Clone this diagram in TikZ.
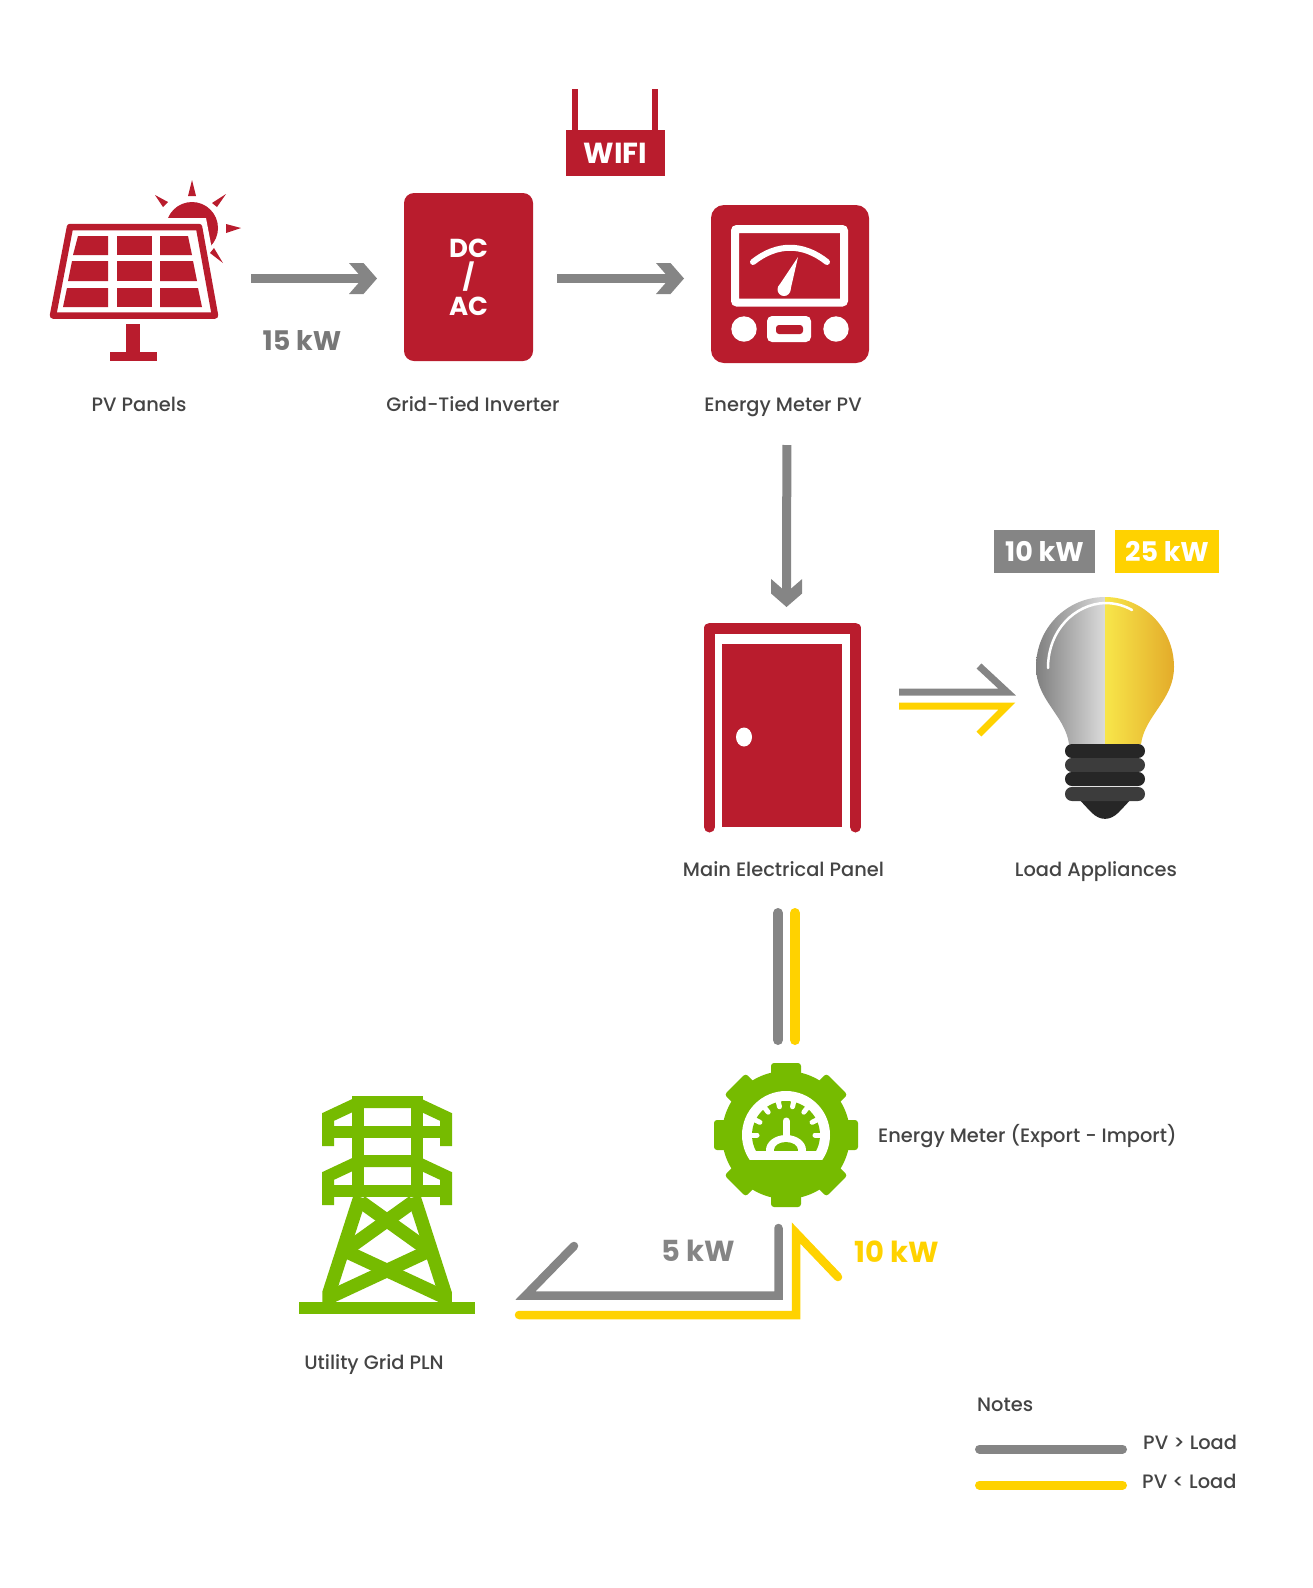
\documentclass[tikz,border=0pt]{standalone}
\usepackage{fontspec}
\setmainfont{Poppins}
\newfontfamily\captionfont{Poppins Medium}
\usetikzlibrary{arrows.meta,positioning}
\definecolor{panelred}{HTML}{B91C2D}
\definecolor{linegray}{HTML}{858585}
\definecolor{lineyellow}{HTML}{FFD200}
\definecolor{towergreen}{HTML}{76BB00}
\definecolor{textgray}{HTML}{444444}
\definecolor{bulbblack}{HTML}{262626}
\definecolor{bulbleft}{HTML}{F8E64A}
\definecolor{bulbright}{HTML}{E3AB2A}
\pgfdeclarearrow{
  name=Chevron,
  setup code={\pgfarrowssettipend{0pt}\pgfarrowssetbackend{-28pt}\pgfarrowssetlineend{-10pt}\pgfarrowssetvisualbackend{-10pt}},
  drawing code={
    \pgfpathmoveto{\pgfqpoint{0pt}{0pt}}
    \pgfpathlineto{\pgfqpoint{-13.5pt}{15.5pt}}
    \pgfpathlineto{\pgfqpoint{-28pt}{15.5pt}}
    \pgfpathlineto{\pgfqpoint{-14.5pt}{0pt}}
    \pgfpathlineto{\pgfqpoint{-28pt}{-15.5pt}}
    \pgfpathlineto{\pgfqpoint{-13.5pt}{-15.5pt}}
    \pgfpathclose
    \pgfusepathqfill}
}
\begin{document}
\begin{tikzpicture}[x=1pt,y=-1pt,
    iconbox/.style={minimum width=#1,outer sep=0pt,inner sep=0pt},
    caption/.style={font=\fontsize{19.4}{22}\captionfont,text=textgray,inner sep=0pt},
    power/.style={font=\fontsize{27}{30}\selectfont\bfseries,inner sep=0pt},
    tagbox/.style={power,text=white,minimum width=#1,minimum height=43pt,outer sep=0pt},
    flow/.style={line width=9pt,draw=linegray,-{Chevron}},
    grayline/.style={line width=8.5pt,draw=linegray},
    yellowline/.style={line width=8.5pt,draw=lineyellow},
    tower/.style={line width=13.5pt,draw=towergreen}]
    \useasboundingbox (0,0) rectangle (1313,1588);

    % main blocks
    \node[iconbox=192pt,minimum height=181pt] (panels) at (145,270.5) {};
    \node[fill=panelred,rounded corners=10pt,minimum width=129pt,minimum height=168pt,outer sep=0pt,
          text=white,align=center,font=\fontsize{26}{29}\selectfont\bfseries,inner sep=0pt] (inverter) at (468.5,277) {DC\\/\\AC};
    \node[fill=panelred,text=white,minimum width=99pt,minimum height=46pt,outer sep=0pt,inner sep=0pt,
          font=\fontsize{29}{32}\selectfont\bfseries] (wifi) at (615.5,153) {WIFI};
    \node[fill=panelred,rounded corners=13pt,minimum width=158pt,minimum height=158pt,outer sep=0pt] (meter) at (790,284) {};
    \node[iconbox=157pt,minimum height=210pt] (door) at (782.5,727) {};
    \node[iconbox=138pt,minimum height=230pt] (bulb) at (1105,712) {};
    \node[iconbox=144pt,minimum height=144pt] (gear) at (786,1135) {};
    \node[iconbox=176pt,minimum height=218pt] (pylon) at (387,1205) {};

    % captions
    \node[caption] (panelscap) [below of=panels,node distance=133.5pt,xshift=-6pt] {PV Panels};
    \node[caption] (invertercap) [below of=inverter,node distance=127pt,xshift=4.5pt] {Grid-Tied Inverter};
    \node[caption] (metercap) [below of=meter,node distance=123pt,xshift=-7pt] {Energy Meter PV};
    \node[caption] (doorcap) [below of=door,node distance=142.5pt,xshift=1pt] {Main Electrical Panel};
    \node[caption] (bulbcap) [below of=bulb,node distance=159.5pt,xshift=-9pt] {Load Appliances};
    \node[caption,anchor=west] (gearcap) at (878,1136) {Energy Meter (Export - Import)};
    \node[caption] (pyloncap) [below of=pylon,node distance=159.5pt,xshift=-13pt] {Utility Grid PLN};

    % power values
    \node[power,text=linegray!90!black] (pvpower) at (302,340.5) {15 kW};
    \node[tagbox=101pt,fill=linegray] (graytag) at (1044.5,551.5) {10 kW};
    \node[tagbox=104pt,fill=lineyellow] (yellowtag) at (1167,551.5) {25 kW};
    \node[power,font=\fontsize{29}{32}\selectfont\bfseries,text=linegray] (exportpower) at (698,1250.5) {5 kW};
    \node[power,font=\fontsize{29}{32}\selectfont\bfseries,text=lineyellow] (importpower) at (897,1251.5) {10 kW};

    % notes
    \node[caption,anchor=west] (notes) at (977,1405) {Notes};
    \node[caption,anchor=west] (pvmore) at (1143,1442) {PV > Load};
    \node[caption,anchor=west] (pvless) at (1142,1481) {PV < Load};
    \coordinate (keygraya) at (979.5,1449);
    \coordinate (keygrayb) at (1122.5,1449);
    \coordinate (keyyellowa) at (979.5,1485);
    \coordinate (keyyellowb) at (1122.5,1485);
    \draw[grayline,line width=9pt,line cap=round] (keygraya) -- (keygrayb);
    \draw[yellowline,line width=9pt,line cap=round] (keyyellowa) -- (keyyellowb);

    % solar panel
    \fill[panelred] (192,228) circle (26);
    \fill[white] (120,218) rectangle (205,262);
    \fill[white] (190,218) -- (206,218) -- (225.5,320) -- (190,320) -- cycle;
    \fill[panelred] (188,196) -- (196,196) -- (192,180) -- cycle;
    \fill[panelred] (212,203) -- (217,207) -- (226,194) -- cycle;
    \fill[panelred] (163,207) -- (168,202) -- (155,195) -- cycle;
    \fill[panelred] (226,224) -- (226,233) -- (241,228) -- cycle;
    \fill[panelred] (210,253) -- (214,248) -- (223,263) -- cycle;
    \draw[panelred,line width=6.5pt,line join=round,fill=white] (70,227) -- (199,227) -- (215,315.5) -- (53,315.5) -- cycle;
    \foreach \xa/\xb/\xc/\xd/\ya/\yb in {78/108/108/73/236/255,117/152/152/117/236/255,160/188/192/160/236/255,
        72/108/108/68/261/281,117/152/152/117/261/281,160/193/197/160/261/281,
        67/108/108/63/288/307,117/152/152/117/288/307,160/198/202/160/288/307}
      \fill[panelred] (\xa,\ya) -- (\xb,\ya) -- (\xc,\yb) -- (\xd,\yb) -- cycle;
    \fill[panelred] (126,324) rectangle (140,352);
    \fill[panelred] (110,352) rectangle (157,361);

    % router antennas
    \fill[panelred] (572,89) rectangle (578,132);
    \fill[panelred] (652,89) rectangle (658,132);

    % meter face
    \draw[white,line width=8pt,rounded corners=2pt] (735,229) rectangle (844,302.5);
    \draw[white,line width=6pt,line cap=round] (753,262) .. controls (777,243) and (803,243) .. (827,262);
    \fill[white] (798,257) -- (790,292) -- (778,287) -- cycle;
    \fill[white] (784,289.5) circle (6.5);
    \fill[white] (744,329) circle (12.7);
    \fill[white] (836,329) circle (12.7);
    \fill[white,rounded corners=5pt] (767,316) rectangle (811,342);
    \fill[panelred,rounded corners=3pt] (776,325) rectangle (803,334);

    % door
    \draw[panelred,line width=11pt,line join=round,line cap=round] (709.5,827) -- (709.5,628) -- (855.5,628) -- (855.5,827);
    \fill[panelred] (722,644) rectangle (842,827);
    \fill[white] (744,737) ellipse (8 and 9.5);

    % bulb
    \shade[left color=black!50,right color=black!14] (1105,597) .. controls (1067,597) and (1036,628) .. (1036,667)
      .. controls (1036,700) and (1065,715) .. (1069,744) -- (1105,744) -- cycle;
    \shade[left color=bulbleft,right color=bulbright] (1105,597) .. controls (1143,597) and (1174,628) .. (1174,667)
      .. controls (1174,700) and (1145,715) .. (1141,744) -- (1105,744) -- cycle;
    \draw[white,line width=2.5pt,line cap=round] (1048,668) .. controls (1048,630) and (1075,604) .. (1105,603)
      .. controls (1116,603) and (1125,606) .. (1132,610);
    \fill[bulbblack,rounded corners=2pt] (1076,796) -- (1134,796) -- (1120,811) .. controls (1110,821) and (1100,821) .. (1090,811) -- cycle;
    \foreach \y/\shadepct in {751/100,765/90,779/100,794/90}
      \fill[bulbblack!\shadepct!white,rounded corners=6.9pt] (1065,\y-7) rectangle (1145,\y+7);

    % gauge
    \begin{scope}[shift={(786,1135)},yscale=-1]
      \fill[towergreen] (0,0) circle (64);
      \foreach \a in {0,45,...,315}
        \fill[towergreen,rotate=\a,rounded corners=3pt] (-15,50) rectangle (15,72);
      \begin{scope}
        \clip (-50,-24) rectangle (50,50);
        \fill[white] (0,0) circle (44);
      \end{scope}
      \begin{scope}
        \clip (-40,-15) rectangle (40,40);
        \fill[towergreen] (0,0) circle (34);
        \foreach \a in {0,26,52,77,103,128,154,180}
          \draw[white,line width=5pt,line cap=round] (\a:29) -- (\a:38);
        \draw[white,line width=7pt,line cap=round] (0,-10) -- (0,14);
        \fill[white] (0,-15) ellipse (20 and 15);
        \fill[towergreen] (0,-15) ellipse (12 and 8);
      \end{scope}
    \end{scope}

    % pylon
    \draw[tower,line width=12pt] (328,1146) -- (328,1117) -- (360,1102) -- (414,1102) -- (446,1117) -- (446,1146);
    \draw[tower,line width=12pt] (322,1132) -- (452,1132);
    \draw[tower,line width=12pt] (328,1205) -- (328,1176) -- (360,1161) -- (414,1161) -- (446,1176) -- (446,1205);
    \draw[tower,line width=12pt] (322,1191) -- (452,1191);
    \draw[tower,line width=12pt] (357.5,1096) -- (357.5,1197);
    \draw[tower,line width=12pt] (416.5,1096) -- (416.5,1197);
    \draw[tower] (360,1197) -- (329,1293) -- (329,1305);
    \draw[tower] (414,1197) -- (445,1293) -- (445,1305);
    \draw[tower] (413.3,1201.7) -- (348.3,1248.3);
    \draw[tower] (360.7,1201.7) -- (425.7,1248.3);
    \draw[tower] (346.7,1251.7) -- (443.3,1296.7);
    \draw[tower] (427.3,1251.7) -- (330.7,1296.7);
    \fill[towergreen] (299,1302) rectangle (475,1314);

    % flows
    \draw[flow,shorten <=10pt,shorten >=27pt] ([yshift=-1.5pt]panels.east |- inverter.west) -- ([yshift=-1.5pt]inverter.west);
    \draw[flow,shorten <=24pt,shorten >=27pt] ([yshift=-1.5pt]inverter.east) -- ([yshift=-1.5pt]meter.west |- inverter.east);
    \draw[flow,shorten <=82pt,shorten >=15pt] ([xshift=-3pt]meter.south) -- ([xshift=4pt]door.north);

    \coordinate (grayload) at (1007,692);
    \coordinate (graybarb) at (979,666);
    \coordinate (yellowload) at (1007,706);
    \coordinate (yellowbarb) at (979,734);
    \draw[grayline,line width=7pt,shorten <=38pt] (door.east |- grayload) -- (grayload) -- (graybarb);
    \draw[yellowline,line width=7pt,shorten <=38pt] (door.east |- yellowload) -- (yellowload) -- (yellowbarb);

    \coordinate (grayin) at (778,1040);
    \coordinate (yellowin) at (795,1040);
    \draw[grayline,line width=10pt,line cap=round,shorten <=81pt] (door.south -| grayin) -- (grayin);
    \draw[yellowline,line width=10pt,line cap=round,shorten <=81pt] (door.south -| yellowin) -- (yellowin);

    \coordinate (graycorner) at (778.5,1295.7);
    \coordinate (graytip) at (525.4,1295.7);
    \coordinate (grayend) at (574,1246);
    \coordinate (yellowcorner) at (796,1315);
    \coordinate (yellowtip) at (796,1233);
    \coordinate (yellowend) at (838,1277);
    \coordinate (yellowstart) at (519,1315);
    \draw[grayline,line cap=round,shorten <=21pt] (gear.south -| graycorner) -- (graycorner) -- (graytip) -- (grayend);
    \draw[yellowline,line cap=round] (yellowstart) -- (yellowcorner) -- (yellowtip) -- (yellowend);
\end{tikzpicture}
\end{document}
